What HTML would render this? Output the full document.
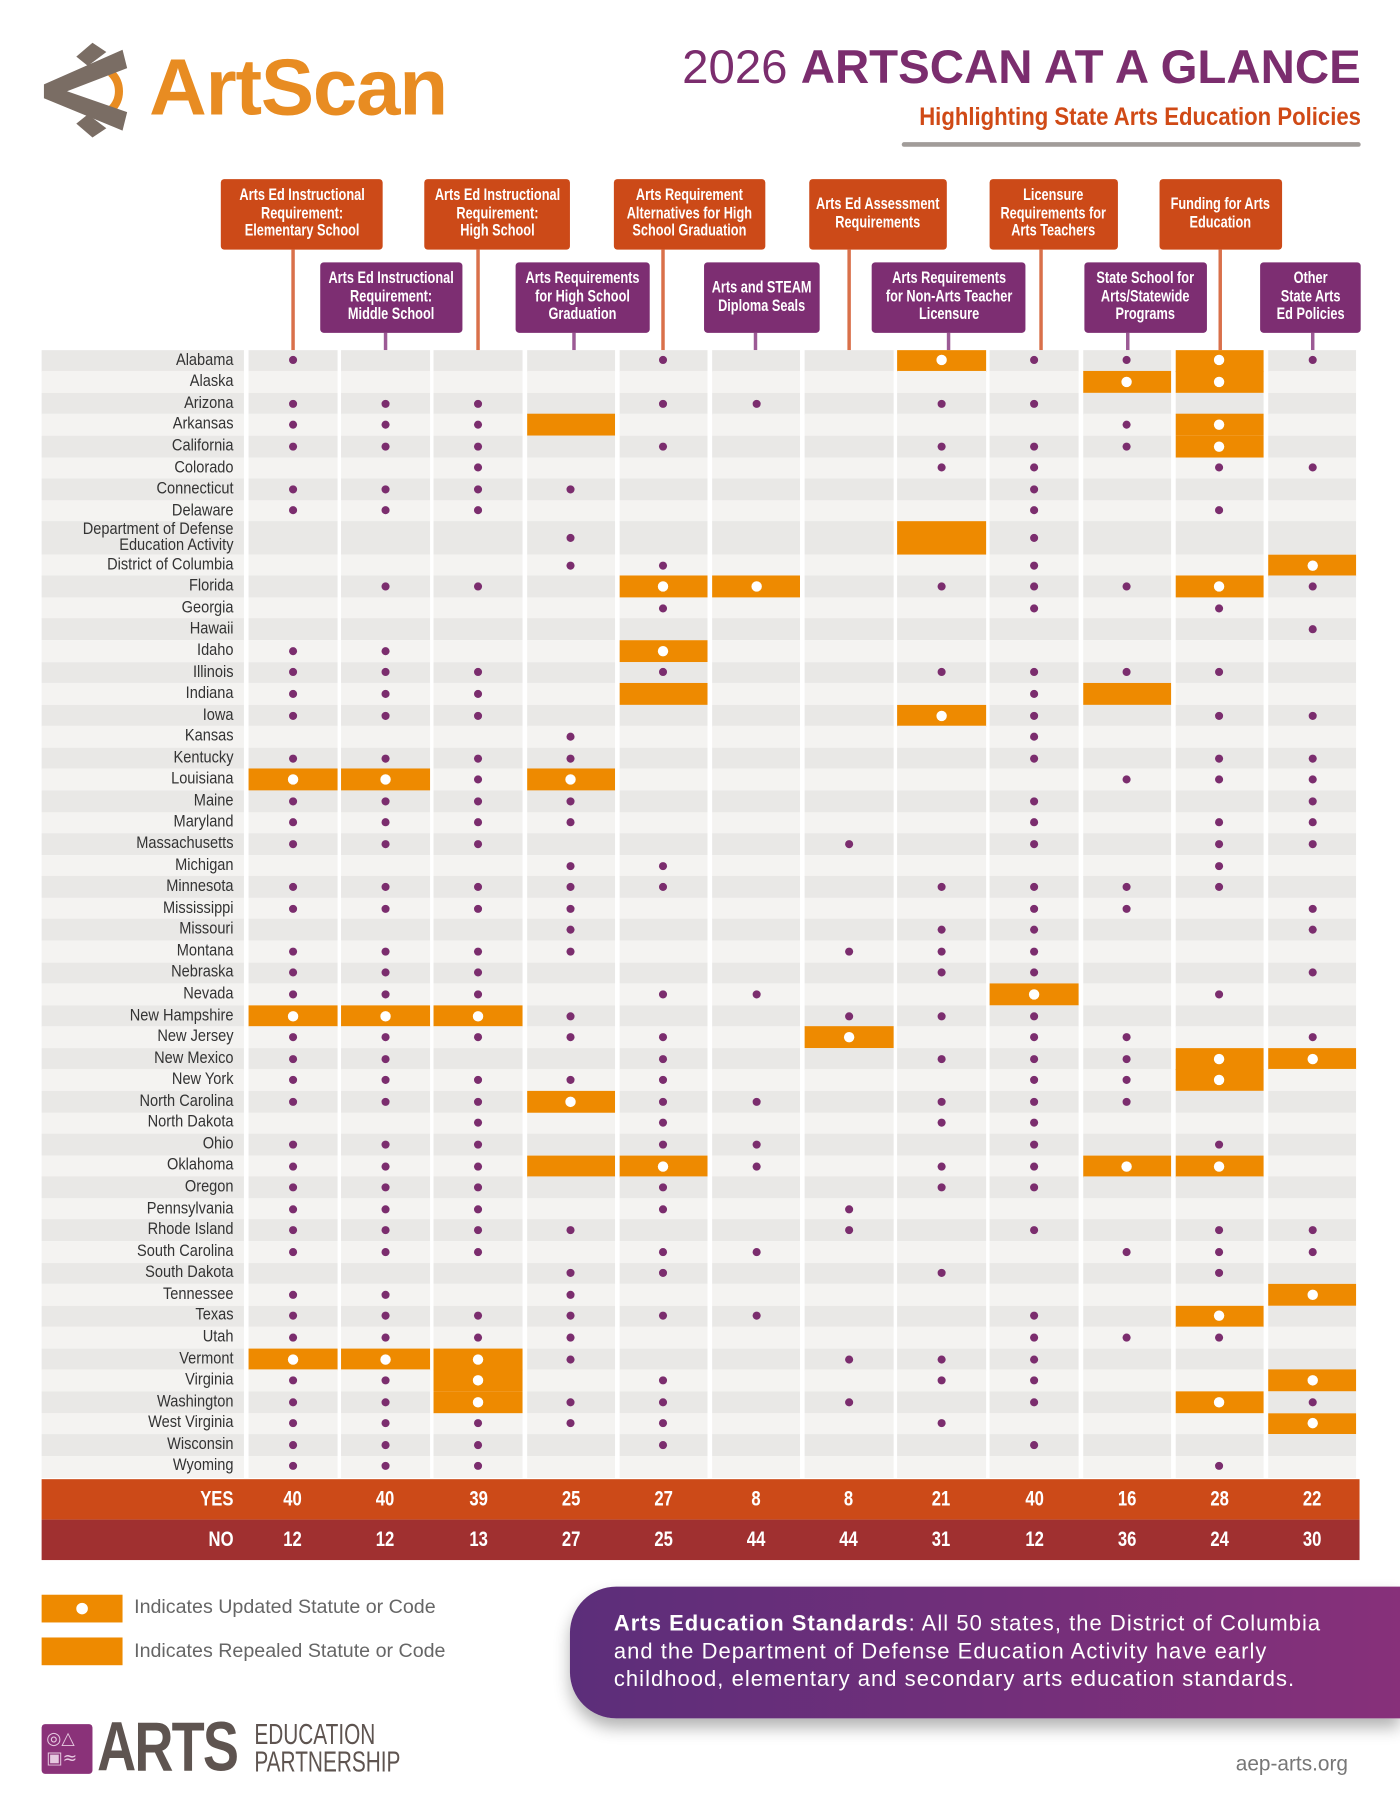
<!DOCTYPE html>
<html><head><meta charset="utf-8">
<style>
html,body{margin:0;padding:0;background:#fff;}
body{width:1400px;height:1812px;overflow:hidden;position:relative;}
#p{position:absolute;left:0;top:0;width:1211px;height:1568px;transform:scale(1.15607,1.1556);transform-origin:0 0;font-family:"Liberation Sans",sans-serif;}
.a{position:absolute;}
.hb{position:absolute;color:#fff;font-weight:bold;font-size:14.5px;line-height:15.5px;text-align:center;display:flex;align-items:center;justify-content:center;border-radius:3px;}
.hb span{display:block;white-space:nowrap;transform:scaleX(.76);}
.or{background:#cc4a18;}
.pu{background:#7d2e72;}
.st{position:absolute;width:3px;}
#labels{position:absolute;left:-4px;top:302.7px;width:206px;text-align:right;font-size:14.5px;color:#333;transform:scaleX(.87);transform-origin:100% 0;}
#labels div{height:18.57px;line-height:18.57px;white-space:nowrap;}
#labels div.t{height:28.5px;line-height:14.5px;display:flex;flex-direction:column;justify-content:center;}
.num{position:absolute;color:#fff;font-weight:bold;font-size:18px;width:60px;text-align:center;transform:scaleX(.8);}
</style></head><body>
<div id="p">
<svg class="a" style="left:36px;top:35px" width="76" height="85" viewBox="0 0 76 85">
<path d="M60 28 A22 22 0 0 1 60 60" stroke="#e88c22" stroke-width="7" fill="none"/>
<polygon points="2,38 70,8 74,24 22,44 74,62 70,78 2,50" fill="#7a6d64"/>
<polygon points="44,2 56,10 40,22 30,14" fill="#7a6d64"/>
<polygon points="30,72 40,64 56,76 44,84" fill="#7a6d64"/>
</svg>
<div class="a" style="left:129px;top:36px;font-weight:bold;font-size:69px;color:#e88c22;letter-spacing:-1px;line-height:80px;">ArtScan</div>

<div class="a" style="right:34px;top:34px;font-size:41px;color:#7b2d6e;line-height:48px;white-space:nowrap;"><span>2026 </span><b>ARTSCAN AT A GLANCE</b></div>
<div class="a" style="right:34px;top:88px;font-weight:bold;font-size:22px;color:#d04a16;line-height:26px;white-space:nowrap;transform:scaleX(.87);transform-origin:100% 0;">Highlighting State Arts Education Policies</div>
<div class="a" style="left:780px;top:123px;width:397px;height:4px;background:#8a8380;border-radius:2px;opacity:.8"></div>

<div class="st" style="left:251.5px;top:216px;height:87px;background:#d9704a"></div>
<div class="st" style="left:331.5px;top:288px;height:15px;background:#9c5a95"></div>
<div class="st" style="left:411.5px;top:216px;height:87px;background:#d9704a"></div>
<div class="st" style="left:494.5px;top:288px;height:15px;background:#9c5a95"></div>
<div class="st" style="left:571.5px;top:216px;height:87px;background:#d9704a"></div>
<div class="st" style="left:651.5px;top:288px;height:15px;background:#9c5a95"></div>
<div class="st" style="left:732.5px;top:216px;height:87px;background:#d9704a"></div>
<div class="st" style="left:818.5px;top:288px;height:15px;background:#9c5a95"></div>
<div class="st" style="left:898.5px;top:216px;height:87px;background:#d9704a"></div>
<div class="st" style="left:973.5px;top:288px;height:15px;background:#9c5a95"></div>
<div class="st" style="left:1053.5px;top:216px;height:87px;background:#d9704a"></div>
<div class="st" style="left:1133.5px;top:288px;height:15px;background:#9c5a95"></div>

<div class="hb or" style="left:191px;top:155px;width:140px;height:61px"><span>Arts Ed Instructional<br>Requirement:<br>Elementary School</span></div>
<div class="hb or" style="left:367px;top:155px;width:126px;height:61px"><span>Arts Ed Instructional<br>Requirement:<br>High School</span></div>
<div class="hb or" style="left:531px;top:155px;width:131px;height:61px"><span>Arts Requirement<br>Alternatives for High<br>School Graduation</span></div>
<div class="hb or" style="left:700px;top:155px;width:119px;height:61px"><span>Arts Ed Assessment<br>Requirements</span></div>
<div class="hb or" style="left:856px;top:155px;width:111px;height:61px"><span>Licensure<br>Requirements for<br>Arts Teachers</span></div>
<div class="hb or" style="left:1003px;top:155px;width:106px;height:61px"><span>Funding for Arts<br>Education</span></div>
<div class="hb pu" style="left:277px;top:227px;width:123px;height:61px"><span>Arts Ed Instructional<br>Requirement:<br>Middle School</span></div>
<div class="hb pu" style="left:446px;top:227px;width:116px;height:61px"><span>Arts Requirements<br>for High School<br>Graduation</span></div>
<div class="hb pu" style="left:609px;top:227px;width:100px;height:61px"><span>Arts and STEAM<br>Diploma Seals</span></div>
<div class="hb pu" style="left:754px;top:227px;width:133px;height:61px"><span>Arts Requirements<br>for Non-Arts Teacher<br>Licensure</span></div>
<div class="hb pu" style="left:938px;top:227px;width:106px;height:61px"><span>State School for<br>Arts/Statewide<br>Programs</span></div>
<div class="hb pu" style="left:1090px;top:227px;width:87px;height:61px"><span>Other<br>State Arts<br>Ed Policies</span></div>

<div id="grid"></div>

<div id="labels">
<div>Alabama</div><div>Alaska</div><div>Arizona</div><div>Arkansas</div><div>California</div><div>Colorado</div><div>Connecticut</div><div>Delaware</div>
<div class="t"><span>Department of Defense</span><span>Education Activity</span></div>
<div>District of Columbia</div><div>Florida</div><div>Georgia</div><div>Hawaii</div><div>Idaho</div><div>Illinois</div><div>Indiana</div><div>Iowa</div><div>Kansas</div><div>Kentucky</div><div>Louisiana</div><div>Maine</div><div>Maryland</div><div>Massachusetts</div><div>Michigan</div><div>Minnesota</div><div>Mississippi</div><div>Missouri</div><div>Montana</div><div>Nebraska</div><div>Nevada</div><div>New Hampshire</div><div>New Jersey</div><div>New Mexico</div><div>New York</div><div>North Carolina</div><div>North Dakota</div><div>Ohio</div><div>Oklahoma</div><div>Oregon</div><div>Pennsylvania</div><div>Rhode Island</div><div>South Carolina</div><div>South Dakota</div><div>Tennessee</div><div>Texas</div><div>Utah</div><div>Vermont</div><div>Virginia</div><div>Washington</div><div>West Virginia</div><div>Wisconsin</div><div>Wyoming</div>
</div>

<div class="a" style="left:36px;top:1280px;width:1140px;height:35px;background:#cc4a18"></div>
<div class="a" style="left:36px;top:1315px;width:1140px;height:35px;background:#a03030"></div>
<div class="a" style="left:120px;top:1287px;width:82px;text-align:right;color:#fff;font-weight:bold;font-size:18px;transform:scaleX(.8);transform-origin:100% 0">YES</div>
<div class="a" style="left:120px;top:1322px;width:82px;text-align:right;color:#fff;font-weight:bold;font-size:18px;transform:scaleX(.8);transform-origin:100% 0">NO</div>
<div id="nums"></div>

<div class="a" style="left:36px;top:1380px;width:70px;height:24px;background:#ee8a00"><div class="a" style="left:30px;top:7px;width:10px;height:10px;border-radius:50%;background:#fff"></div></div>
<div class="a" style="left:36px;top:1417px;width:70px;height:24px;background:#ee8a00"></div>
<div class="a" style="left:116px;top:1380px;font-size:17px;color:#666;line-height:22px">Indicates Updated Statute or Code</div>
<div class="a" style="left:116px;top:1418px;font-size:17px;color:#666;line-height:22px">Indicates Repealed Statute or Code</div>

<div class="a" style="left:493px;top:1373px;width:718px;height:114px;border-radius:40px 0 0 40px;background:linear-gradient(90deg,#5c2e7a,#87307a);box-shadow:0 8px 14px rgba(0,0,0,.3)"></div>
<div class="a" style="left:531px;top:1394px;font-size:19px;letter-spacing:0.9px;line-height:24px;color:#fff;white-space:nowrap"><b>Arts Education Standards</b>: All 50 states, the District of Columbia<br>and the Department of Defense Education Activity have early<br>childhood, elementary and secondary arts education standards.</div>

<div class="a" style="left:36px;top:1492px;width:44px;height:43px;background:#8a3279;border-radius:3px"></div>
<div class="a" style="left:40px;top:1496px;color:#e6c8e0;font-size:15px;line-height:17px;font-family:'DejaVu Sans',sans-serif">◎△<br>▣≈</div>
<div class="a" style="left:84px;top:1480px;font-weight:bold;font-size:60px;color:#5e5450;line-height:64px;letter-spacing:-2px;transform:scaleX(.78);transform-origin:0 0">ARTS</div>
<div class="a" style="left:220px;top:1489px;font-size:25px;color:#5e5450;line-height:24px;transform:scaleX(.72);transform-origin:0 0">EDUCATION<br>PARTNERSHIP</div>
<div class="a" style="left:1030px;top:1516px;width:136px;text-align:right;font-size:18px;color:#777">aep-arts.org</div>
</div>
<script>
var D=["d...d..UddUd",".........UU.","ddd.dd.dd...","dddR.....dU.","ddd.d..dddU.","..d....dd.dd","dddd....d...","ddd.....d.d.","...d...Rd...","...dd...d..U",".dd.UU.dddUd","....d...d.d.","...........d","dd..U.......","ddd.d..dddd.","ddd.R...dR..","ddd....Ud.dd","...d....d...","dddd....d.dd","UUdU.....ddd","dddd....d..d","dddd....d.dd","ddd...d.d.dd","...dd.....d.","ddddd..dddd.","dddd....dd.d","...d...dd..d","dddd..ddd...","ddd....dd..d","ddd.dd..U.d.","UUUd..ddd...","ddddd.U.dd.d","dd..d..dddUU","ddddd...ddU.","dddUdd.ddd..","..d.d..dd...","ddd.dd..d.d.","dddRUd.ddUU.","ddd.d..dd...","ddd.d.d.....","dddd..d.d.dd","ddd.dd...ddd","...dd..d..d.","dd.d.......U","dddddd..d.U.","dddd....ddd.","UUUd..ddd...","ddU.d..dd..U","ddUdd.d.d.Ud","ddddd..d...U","ddd.d...d...","ddd.......d."];
var g=document.getElementById('grid'),h='',y=302.7;
for(var r=0;r<D.length;r++){var rh=(r==8)?28.5:18.57;var c=(r%2==0)?'#e9e8e6':'#f4f3f1';
h+='<div class="a" style="left:36px;top:'+y+'px;width:175px;height:'+(rh+0.3)+'px;background:'+c+'"></div>';
for(var i=0;i<12;i++){var x=215+80.17*i,ch=D[r][i];var bg=(ch=='U'||ch=='R')?'#ee8a00':c;
h+='<div class="a" style="left:'+x+'px;top:'+y+'px;width:76.5px;height:'+(rh+0.3)+'px;background:'+bg+'"></div>';
var cx=x+38.2,cy=y+rh/2;
if(ch=='d')h+='<div class="a" style="left:'+(cx-3.5)+'px;top:'+(cy-3.5)+'px;width:7px;height:7px;border-radius:50%;background:#7b2d6e"></div>';
if(ch=='U')h+='<div class="a" style="left:'+(cx-4.5)+'px;top:'+(cy-4.5)+'px;width:9px;height:9px;border-radius:50%;background:#fff"></div>';}
y+=rh;}
g.innerHTML=h;
var Y=[40,40,39,25,27,8,8,21,40,16,28,22],N=[12,12,13,27,25,44,44,31,12,36,24,30],n='';
for(var i=0;i<12;i++){var cx=215+80.17*i+38.2-30;n+='<div class="num" style="left:'+cx+'px;top:1287px">'+Y[i]+'</div><div class="num" style="left:'+cx+'px;top:1322px">'+N[i]+'</div>';}
document.getElementById('nums').innerHTML=n;
</script>
</body></html>
